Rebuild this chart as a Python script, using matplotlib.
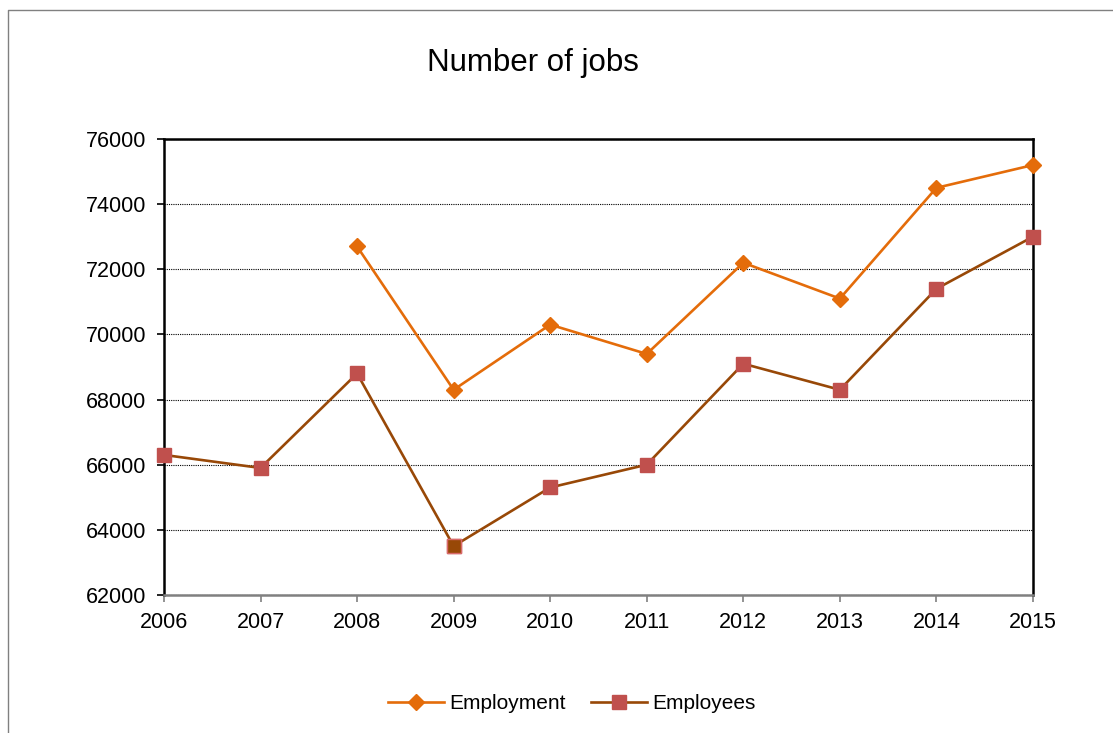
import matplotlib.pyplot as plt
from matplotlib.lines import Line2D

years = [2006, 2007, 2008, 2009, 2010, 2011, 2012, 2013, 2014, 2015]
employment = [None, None, 72700, 68300, 70300, 69400, 72200, 71100, 74500, 75200]
employees = [66300, 65900, 68800, 63500, 65300, 66000, 69100, 68300, 71400, 73000]

plt.rcParams['font.family'] = ['Liberation Sans', 'DejaVu Sans']

fig = plt.figure(figsize=(11.13, 7.33), dpi=100)
# outer chart border (only left and top visible)
fig.add_artist(Line2D([0.0075, 0.0075, 1.0], [0.0, 0.9865, 0.9865], transform=fig.transFigure,
                      color='#808080', linewidth=1))

ax = fig.add_axes([0.1473, 0.1883, 0.7808, 0.6221])
x = list(range(len(years)))

emp_x = [i for i, v in zip(x, employment) if v is not None]
emp_y = [v for v in employment if v is not None]
ax.plot(emp_x, emp_y, color='#E46C0A', linewidth=1.9, marker='D', markersize=8.5,
        markerfacecolor='#E46C0A', markeredgecolor='#E46C0A', label='Employment',
        zorder=3, clip_on=False)
ax.plot(x, employees, color='#984807', linewidth=1.9, marker='s', markersize=10.5,
        markerfacecolor='#C0504D', markeredgecolor='#C0504D', label='Employees',
        zorder=3, clip_on=False)
# 2009 point has a brown fill
ax.plot([x[3]], [employees[3]], linestyle='none', marker='s', markersize=10.5,
        markerfacecolor='#984807', markeredgecolor='#D9696A', zorder=4, clip_on=False)

ax.set_xlim(0, len(years) - 1)
ax.set_ylim(62000, 76000)
ax.set_yticks(range(62000, 76001, 2000))
ax.set_xticks(x)
ax.set_xticklabels([str(y) for y in years])
ax.yaxis.grid(True, linestyle=(0, (1, 1)), color='black', linewidth=0.8)
ax.set_axisbelow(True)

for side in ['left', 'top', 'right']:
    ax.spines[side].set_color('black')
    ax.spines[side].set_linewidth(1.8)
ax.spines['bottom'].set_color('#808080')
ax.spines['bottom'].set_linewidth(1.8)
ax.tick_params(axis='both', labelsize=15.5, width=1.2)
ax.tick_params(axis='x', color='#808080', length=5, pad=7)
ax.tick_params(axis='y', color='black', length=5, pad=8)

fig.text(0.479, 0.914, 'Number of jobs', ha='center', va='center', fontsize=22.5)

fig.legend(loc='center', bbox_to_anchor=(0.514, 0.04), ncol=2, frameon=False,
           fontsize=15, handlelength=2.7, columnspacing=1.2, handletextpad=0.25)

fig.savefig('out.png', dpi=100)
